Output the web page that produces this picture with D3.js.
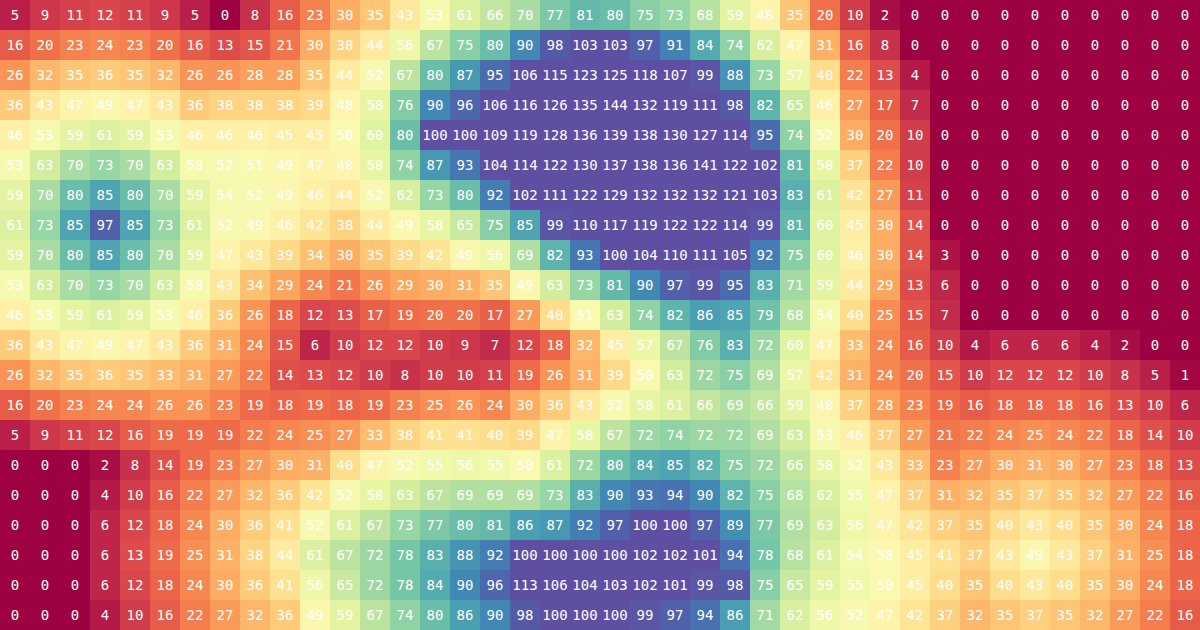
<!DOCTYPE html>
<html>
<head>
<meta charset="utf-8">
<script src="https://cdn.jsdelivr.net/npm/d3@7"></script>
<style>
  html, body { margin: 0; padding: 0; background: #fff; }
  svg { display: block; }
</style>
</head>
<body>
<svg id="chart" width="1200" height="630"></svg>
<script>
const columns = [0,1,2,3,4,5,6,7,8,9,10,11,12,13,14,15,16,17,18,19,20,21,22,23,24,25,26,27,28,29,30,31,32,33,34,35,36,37,38,39];
const rows = [0,1,2,3,4,5,6,7,8,9,10,11,12,13,14,15,16,17,18,19,20];
const grid = [
  [5,9,11,12,11,9,5,0,8,16,23,30,35,43,53,61,66,70,77,81,80,75,73,68,59,48,35,20,10,2,0,0,0,0,0,0,0,0,0,0],
  [16,20,23,24,23,20,16,13,15,21,30,38,44,56,67,75,80,90,98,103,103,97,91,84,74,62,47,31,16,8,0,0,0,0,0,0,0,0,0,0],
  [26,32,35,36,35,32,26,26,28,28,35,44,52,67,80,87,95,106,115,123,125,118,107,99,88,73,57,40,22,13,4,0,0,0,0,0,0,0,0,0],
  [36,43,47,49,47,43,36,38,38,38,39,48,58,76,90,96,106,116,126,135,144,132,119,111,98,82,65,46,27,17,7,0,0,0,0,0,0,0,0,0],
  [46,53,59,61,59,53,46,46,46,45,45,50,60,80,100,100,109,119,128,136,139,138,130,127,114,95,74,52,30,20,10,0,0,0,0,0,0,0,0,0],
  [53,63,70,73,70,63,53,52,51,49,47,48,58,74,87,93,104,114,122,130,137,138,136,141,122,102,81,58,37,22,10,0,0,0,0,0,0,0,0,0],
  [59,70,80,85,80,70,59,54,52,49,46,44,52,62,73,80,92,102,111,122,129,132,132,132,121,103,83,61,42,27,11,0,0,0,0,0,0,0,0,0],
  [61,73,85,97,85,73,61,52,49,46,42,38,44,49,58,65,75,85,99,110,117,119,122,122,114,99,81,60,45,30,14,0,0,0,0,0,0,0,0,0],
  [59,70,80,85,80,70,59,47,43,39,34,30,35,39,42,49,56,69,82,93,100,104,110,111,105,92,75,60,46,30,14,3,0,0,0,0,0,0,0,0],
  [53,63,70,73,70,63,53,43,34,29,24,21,26,29,30,31,35,49,63,73,81,90,97,99,95,83,71,59,44,29,13,6,0,0,0,0,0,0,0,0],
  [46,53,59,61,59,53,46,36,26,18,12,13,17,19,20,20,17,27,40,51,63,74,82,86,85,79,68,54,40,25,15,7,0,0,0,0,0,0,0,0],
  [36,43,47,49,47,43,36,31,24,15,6,10,12,12,10,9,7,12,18,32,45,57,67,76,83,72,60,47,33,24,16,10,4,6,6,6,4,2,0,0],
  [26,32,35,36,35,33,31,27,22,14,13,12,10,8,10,10,11,19,26,31,39,50,63,72,75,69,57,42,31,24,20,15,10,12,12,12,10,8,5,1],
  [16,20,23,24,24,26,26,23,19,18,19,18,19,23,25,26,24,30,36,43,52,58,61,66,69,66,59,48,37,28,23,19,16,18,18,18,16,13,10,6],
  [5,9,11,12,16,19,19,19,22,24,25,27,33,38,41,41,40,39,47,58,67,72,74,72,72,69,63,53,46,37,27,21,22,24,25,24,22,18,14,10],
  [0,0,0,2,8,14,19,23,27,30,31,40,47,52,55,56,55,50,61,72,80,84,85,82,75,72,66,58,52,43,33,23,27,30,31,30,27,23,18,13],
  [0,0,0,4,10,16,22,27,32,36,42,52,58,63,67,69,69,69,73,83,90,93,94,90,82,75,68,62,55,47,37,31,32,35,37,35,32,27,22,16],
  [0,0,0,6,12,18,24,30,36,41,52,61,67,73,77,80,81,86,87,92,97,100,100,97,89,77,69,63,56,47,42,37,35,40,43,40,35,30,24,18],
  [0,0,0,6,13,19,25,31,38,44,61,67,72,78,83,88,92,100,100,100,100,102,102,101,94,78,68,61,54,50,45,41,37,43,49,43,37,31,25,18],
  [0,0,0,6,12,18,24,30,36,41,56,65,72,78,84,90,96,113,106,104,103,102,101,99,98,75,65,59,55,50,45,40,35,40,43,40,35,30,24,18],
  [0,0,0,4,10,16,22,27,32,36,49,59,67,74,80,86,90,98,100,100,100,99,97,94,86,71,62,56,52,47,42,37,32,35,37,35,32,27,22,16]
];
const colorDomain = [0, 100];

const W = 1200, H = 630;
const svg = d3.select("#chart");
const x = d3.scaleBand().domain(columns).range([0, W]);
const y = d3.scaleBand().domain(rows).range([0, H]);
const color = d3.scaleSequential(d3.interpolateSpectral).domain(colorDomain).clamp(true);

const cells = [];
rows.forEach((r, i) => columns.forEach((c, j) => cells.push({ r, c, v: grid[i][j] })));

const g = svg.append("g");
g.selectAll("rect").data(cells).join("rect")
  .attr("x", d => x(d.c))
  .attr("y", d => y(d.r))
  .attr("width", x.bandwidth())
  .attr("height", y.bandwidth())
  .attr("fill", d => color(d.v));

g.selectAll("text").data(cells).join("text")
  .attr("x", d => x(d.c) + x.bandwidth() / 2)
  .attr("y", d => y(d.r) + y.bandwidth() / 2)
  .attr("text-anchor", "middle")
  .attr("dominant-baseline", "central")
  .attr("fill", "#fff")
  .style("font-family", "'DejaVu Sans Mono', monospace")
  .style("font-size", "14px")
  .text(d => d.v);
</script>
</body>
</html>
